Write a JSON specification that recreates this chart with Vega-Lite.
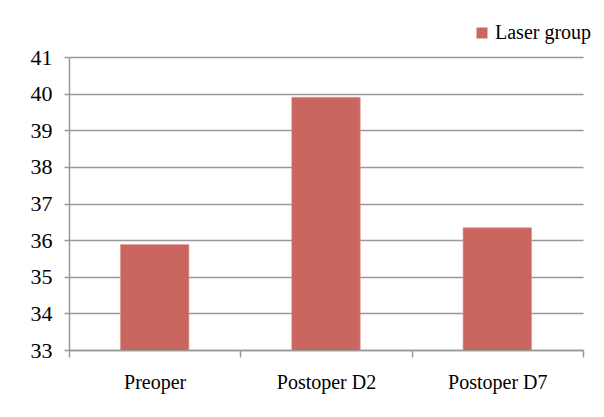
{
  "$schema": "https://vega.github.io/schema/vega-lite/v6.json",
  "width": 514,
  "height": 293,
  "autosize": {"type": "none"},
  "padding": {"left": 69, "top": 57, "right": 21, "bottom": 67},
  "background": "white",
  "data": {
    "values": [
      {"period": "Preoper", "value": 35.88, "group": "Laser group"},
      {"period": "Postoper D2", "value": 39.9, "group": "Laser group"},
      {"period": "Postoper D7", "value": 36.34, "group": "Laser group"}
    ]
  },
  "mark": {"type": "bar", "clip": true, "width": {"band": 0.4}, "stroke": "#e59a95", "strokeWidth": 0.6},
  "encoding": {
    "x": {
      "field": "period",
      "type": "nominal",
      "sort": null,
      "title": null,
      "scale": {"paddingInner": 0, "paddingOuter": 0},
      "axis": {
        "tickBand": "extent",
        "labelAngle": 0,
        "labelFont": "Liberation Serif",
        "labelFontSize": 20,
        "labelColor": "black",
        "labelPadding": 15,
        "labelOverlap": false,
        "labelBound": false,
        "domainColor": "#999999",
        "domainWidth": 1.5,
        "tickColor": "#999999",
        "tickWidth": 1.5,
        "tickSize": 7,
        "grid": false
      }
    },
    "y": {
      "field": "value",
      "type": "quantitative",
      "title": null,
      "scale": {"domain": [33, 41], "zero": false, "nice": false},
      "axis": {
        "values": [33, 34, 35, 36, 37, 38, 39, 40, 41],
        "labelFont": "Liberation Serif",
        "labelFontSize": 22,
        "labelColor": "black",
        "labelPadding": 12,
        "domainColor": "#999999",
        "domainWidth": 1.5,
        "tickColor": "#999999",
        "tickWidth": 1.5,
        "tickSize": 5,
        "grid": true,
        "gridColor": "#999999",
        "gridWidth": 1.5
      }
    },
    "color": {
      "field": "group",
      "type": "nominal",
      "scale": {"range": ["#c8665f"]},
      "legend": {
        "title": null,
        "orient": "none",
        "legendX": 403,
        "legendY": -34,
        "symbolType": "square",
        "symbolSize": 120,
        "symbolStrokeWidth": 0,
        "labelFont": "Liberation Serif",
        "labelFontSize": 20,
        "labelColor": "black",
        "labelOffset": 3
      }
    }
  },
  "config": {"view": {"stroke": null}}
}
